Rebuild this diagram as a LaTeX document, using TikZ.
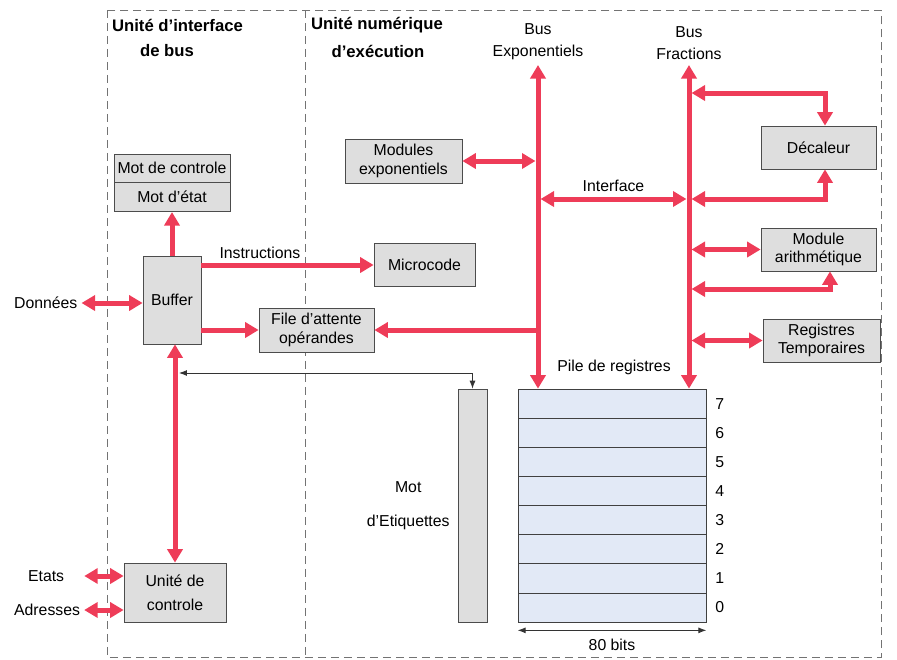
\documentclass[tikz,border=0pt]{standalone}
\usepackage{fontspec}
\setmainfont{Liberation Sans}
\usetikzlibrary{positioning,arrows.meta}
\definecolor{busred}{RGB}{238,60,88}
\definecolor{boxgrey}{RGB}{222,222,222}
\definecolor{pileblue}{RGB}{226,233,246}
\newcommand{\lbl}{\fontsize{9}{10.5}\selectfont}
\newcommand{\ttl}{\fontsize{9.5}{11}\selectfont\bfseries}

\begin{document}
\begin{tikzpicture}[x=0.02cm, y=-0.02cm,
  blk/.style={draw=black!70, fill=boxgrey, align=center, inner sep=1pt, font=\lbl},
  pile/.style={draw=black!75, fill=pileblue, inner sep=0pt, minimum width=3.76cm, minimum height=0.5825cm},
  redline/.style={draw=busred, line width=0.1cm, >={Triangle[length=0.27cm,width=0.3cm]}},
  thinline/.style={draw=black!80, line width=0.5pt, >={Latex[length=0.16cm,width=0.12cm]}},
  frame/.style={draw=black!55, line width=0.5pt, dash pattern=on 0.16cm off 0.1cm},
  txt/.style={font=\lbl, inner sep=1pt, align=center}]

\useasboundingbox (0,0) rectangle (897,660);

% cadres des deux unites
\draw[frame] (107,10) rectangle (881,657);
\draw[frame] (305,10) -- (305,657);
\node[txt, font=\ttl, anchor=west] (tbiu) at (110,25) {Unité d'interface};
\node[txt, font=\ttl] (tbiu2) at (167,51) {de bus};
\node[txt, font=\ttl, anchor=west] (teu) at (309,25) {Unité numérique};
\node[txt, font=\ttl] (teu2) at (378,51) {d'exécution};

% blocs
\node[blk, minimum width=2.32cm, minimum height=0.56cm] (motctl) at (172,168) {Mot de controle};
\node[blk, minimum width=2.32cm, minimum height=0.58cm, below=0pt of motctl] (motetat) {Mot d'état};
\node[blk, minimum width=1.16cm, minimum height=1.76cm] (buffer) at (172,300) {Buffer};
\node[blk, minimum width=2.02cm, minimum height=0.86cm] (micro) at (424.5,265) {Microcode};
\node[blk, minimum width=2.34cm, minimum height=0.88cm] (modexp) at (403.5,161) {Modules\\exponentiels};
\node[blk, minimum width=2.3cm, minimum height=0.88cm] (file) at (316.5,330) {File d'attente\\opérandes};
\node[blk, minimum width=2.04cm, minimum height=1.18cm] (ctrl) at (175,592.5) {Unité de\\[3pt]controle};
\node[blk, minimum width=2.3cm, minimum height=0.86cm] (decal) at (818.5,147.5) {Décaleur};
\node[blk, minimum width=2.3cm, minimum height=0.86cm] (arith) at (818.5,249.5) {Module\\arithmétique};
\node[blk, minimum width=2.34cm, minimum height=0.86cm] (regtmp) at (821.5,340.5) {Registres\\Temporaires};
\node[blk, minimum width=0.58cm, minimum height=4.66cm] (etiq) at (472.5,505.5) {};
\node[txt, left=0.12cm of etiq] (etiqlbl) {Mot\\[9pt]d'Etiquettes};

% pile de registres
\foreach \i in {0,...,7}{
  \node[pile] (r\i) at (612,{607.44-29.125*\i}) {};
  \node[txt, right=0.14cm of r\i] (n\i) {\i};
}
\node[txt] (pilelbl) at (614,367) {Pile de registres};
\draw[thinline,<->] ([yshift=-0.16cm]r0.south west) -- ([yshift=-0.16cm]r0.south east)
  node[midway, below=0.12cm, txt] (bits) {80 bits};

% bus
\coordinate (expTop) at (538,65);
\coordinate (fracTop) at (689,65);
\node[txt, above=0.06cm of expTop] (explbl) {Bus\\[2pt]Exponentiels};
\node[txt, above=0.06cm of fracTop] (fraclbl) {Bus\\[2pt]Fractions};
\draw[redline,<->] (expTop) -- (expTop |- r7.north);
\draw[redline,<->] (fracTop) -- (fracTop |- r7.north);

% liaisons
\node[txt, anchor=west] (donnees) at (12,303) {Données};
\draw[redline,<->] ([xshift=0.04cm]donnees.east) -- (donnees.east -| buffer.west);
\draw[redline,->] (buffer.north) -- (motetat.south);
\draw[redline,->] (buffer.east |- micro.west) -- (micro.west)
  node[pos=0.34, above=1pt, txt] (instr) {Instructions};
\draw[redline,->] (buffer.east |- file.west) -- (file.west);
\draw[redline,->] (expTop |- file.east) -- (file.east);
\draw[redline,<->] (modexp.east) -- ([xshift=-0.05cm]modexp.east -| expTop);
\coordinate (ifc) at (613,199);
\draw[redline,<->] ([xshift=0.05cm]ifc -| expTop) -- ([xshift=-0.05cm]ifc -| fracTop)
  node[midway, above=2pt, txt] (ifclbl) {Interface};
\coordinate (dtop) at (825,93);
\coordinate (dbot) at (825,199);
\coordinate (abot) at (830,289);
\draw[redline,<->] ([xshift=0.05cm]dtop -| fracTop) -| (dtop |- decal.north);
\draw[redline,<->] ([xshift=0.05cm]dbot -| fracTop) -| (dbot |- decal.south);
\draw[redline,<->] ([xshift=0.05cm]fracTop |- arith.west) -- (arith.west);
\draw[redline,<->] ([xshift=0.05cm]abot -| fracTop) -| (abot |- arith.south);
\draw[redline,<->] ([xshift=0.05cm]fracTop |- regtmp.west) -- (regtmp.west);
\draw[redline,<->] (buffer.south -| ctrl.north) -- (ctrl.north);
\coordinate (tagT) at (179,373);
\draw[thinline,<->] (tagT) -| (etiq.north);
\node[txt, anchor=west] (etats) at (26,576) {Etats};
\draw[redline,<->] ([xshift=0.36cm]etats.east) -- (etats.east -| ctrl.west);
\node[txt, anchor=west] (adr) at (12,610) {Adresses};
\draw[redline,<->] ([xshift=0.04cm]adr.east) -- (adr.east -| ctrl.west);
\end{tikzpicture}
\end{document}
